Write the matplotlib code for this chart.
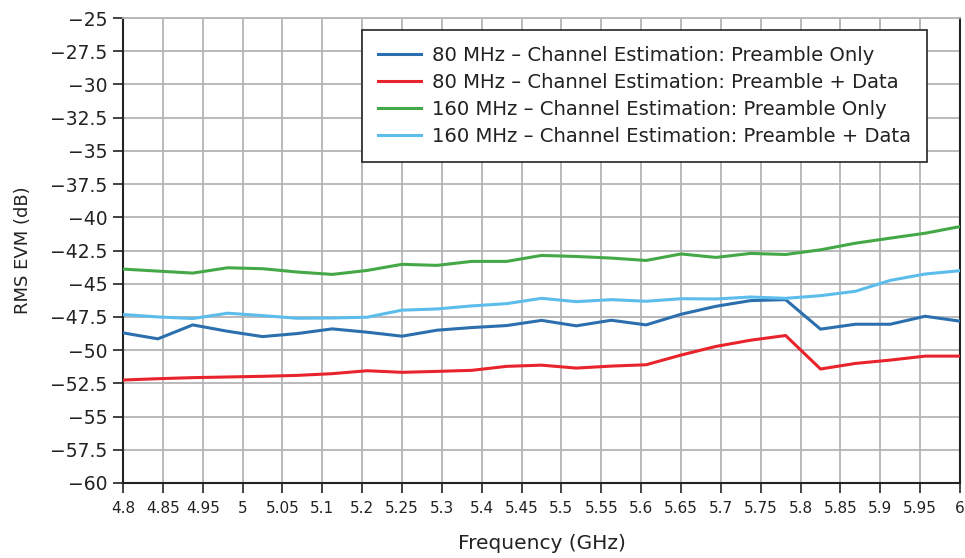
import numpy as np
import matplotlib
matplotlib.use("Agg")
import matplotlib.pyplot as plt
from matplotlib.ticker import FuncFormatter

plt.rcParams['font.family'] = ['DejaVu Sans']

# Measurement frequencies (GHz)
freq = [4.80, 4.85, 4.90, 4.95, 5.00, 5.05, 5.10, 5.15, 5.20, 5.25, 5.30, 5.35,
        5.40, 5.45, 5.50, 5.55, 5.60, 5.65, 5.70, 5.75, 5.80, 5.85, 5.90, 5.95, 6.00]

evm_80_pre = [-48.70, -49.15, -48.10, -48.58, -48.98, -48.75, -48.40, -48.65, -48.95,
              -48.50, -48.30, -48.15, -47.76, -48.17, -47.75, -48.10, -47.30, -46.70,
              -46.27, -46.20, -48.42, -48.05, -48.05, -47.45, -47.82]
evm_80_data = [-52.25, -52.15, -52.07, -52.02, -51.97, -51.90, -51.77, -51.55, -51.67,
               -51.60, -51.52, -51.22, -51.13, -51.35, -51.20, -51.10, -50.37, -49.72,
               -49.25, -48.90, -51.42, -51.00, -50.75, -50.45, -50.45]
evm_160_pre = [-43.90, -44.05, -44.20, -43.80, -43.87, -44.12, -44.30, -44.00, -43.54,
               -43.62, -43.32, -43.32, -42.87, -42.95, -43.07, -43.25, -42.76, -43.02,
               -42.72, -42.80, -42.45, -41.95, -41.57, -41.20, -40.70]
evm_160_data = [-47.32, -47.50, -47.62, -47.22, -47.40, -47.60, -47.58, -47.52, -46.99,
                -46.90, -46.67, -46.50, -46.10, -46.35, -46.20, -46.32, -46.13, -46.15,
                -46.00, -46.10, -45.90, -45.57, -44.75, -44.27, -44.02]

series_labels = ["80 MHz \u2013 Channel Estimation: Preamble Only",
                 "80 MHz \u2013 Channel Estimation: Preamble + Data",
                 "160 MHz \u2013 Channel Estimation: Preamble Only",
                 "160 MHz \u2013 Channel Estimation: Preamble + Data"]
series_colors = ["#2c6fae", "#e8232b", "#45a847", "#5cbdec"]

xtick_labels = ["4.8", "4.85", "4.95", "5", "5.05", "5.1", "5.2", "5.25", "5.3", "5.4",
                "5.45", "5.5", "5.55", "5.6", "5.65", "5.7", "5.75", "5.8", "5.85",
                "5.9", "5.95", "6"]
yticks = [-25, -27.5, -30, -32.5, -35, -37.5, -40, -42.5, -45, -47.5, -50, -52.5,
          -55, -57.5, -60]

fig = plt.figure(figsize=(9.65, 5.58), dpi=100)
ax = fig.add_axes([123/965, 1 - 483/558, (960-123)/965, (483-18)/558])

for y, lab, c in zip([evm_80_pre, evm_80_data, evm_160_pre, evm_160_data],
                     series_labels, series_colors):
    ax.plot(freq, y, color=c, lw=2.2, label=lab, solid_joinstyle='round', zorder=3)

ax.set_xlim(4.8, 6.0)
ax.set_ylim(-60, -25)
xt = np.linspace(4.8, 6.0, len(xtick_labels))
ax.set_xticks(xt)
ax.set_xticklabels(xtick_labels)
ax.set_yticks(yticks)
ax.yaxis.set_major_formatter(FuncFormatter(lambda v, p: f"{v:g}".replace("-", "\u2212")))

ax.grid(True, color="#b4b4b6", lw=1.3, zorder=0)
ax.tick_params(axis='both', direction='out', length=7, width=1.2, color='#222222',
               labelcolor='#222222')
ax.tick_params(axis='x', pad=6, labelsize=11)
ax.tick_params(axis='y', pad=4, labelsize=13.5)

for s in ['left', 'bottom', 'right']:
    ax.spines[s].set_color('#222222')
    ax.spines[s].set_linewidth(1.5)
ax.spines['top'].set_color('#b4b4b6')
ax.spines['top'].set_linewidth(1.3)

ax.set_xlabel("Frequency (GHz)", fontsize=14.5, color='#222222', labelpad=13)
ax.set_ylabel("RMS EVM (dB)", fontsize=13, color='#222222', labelpad=13)

leg = ax.legend(loc='upper right', bbox_to_anchor=(0.961, 0.974), fontsize=14.1,
                frameon=True, fancybox=False, edgecolor='#222222', framealpha=1,
                handlelength=2.15, handletextpad=0.6, labelspacing=0.41,
                borderpad=0.82, borderaxespad=0)
leg.get_frame().set_linewidth(1.2)
for t in leg.get_texts():
    t.set_color('#222222')

fig.savefig("out.png", dpi=100)
